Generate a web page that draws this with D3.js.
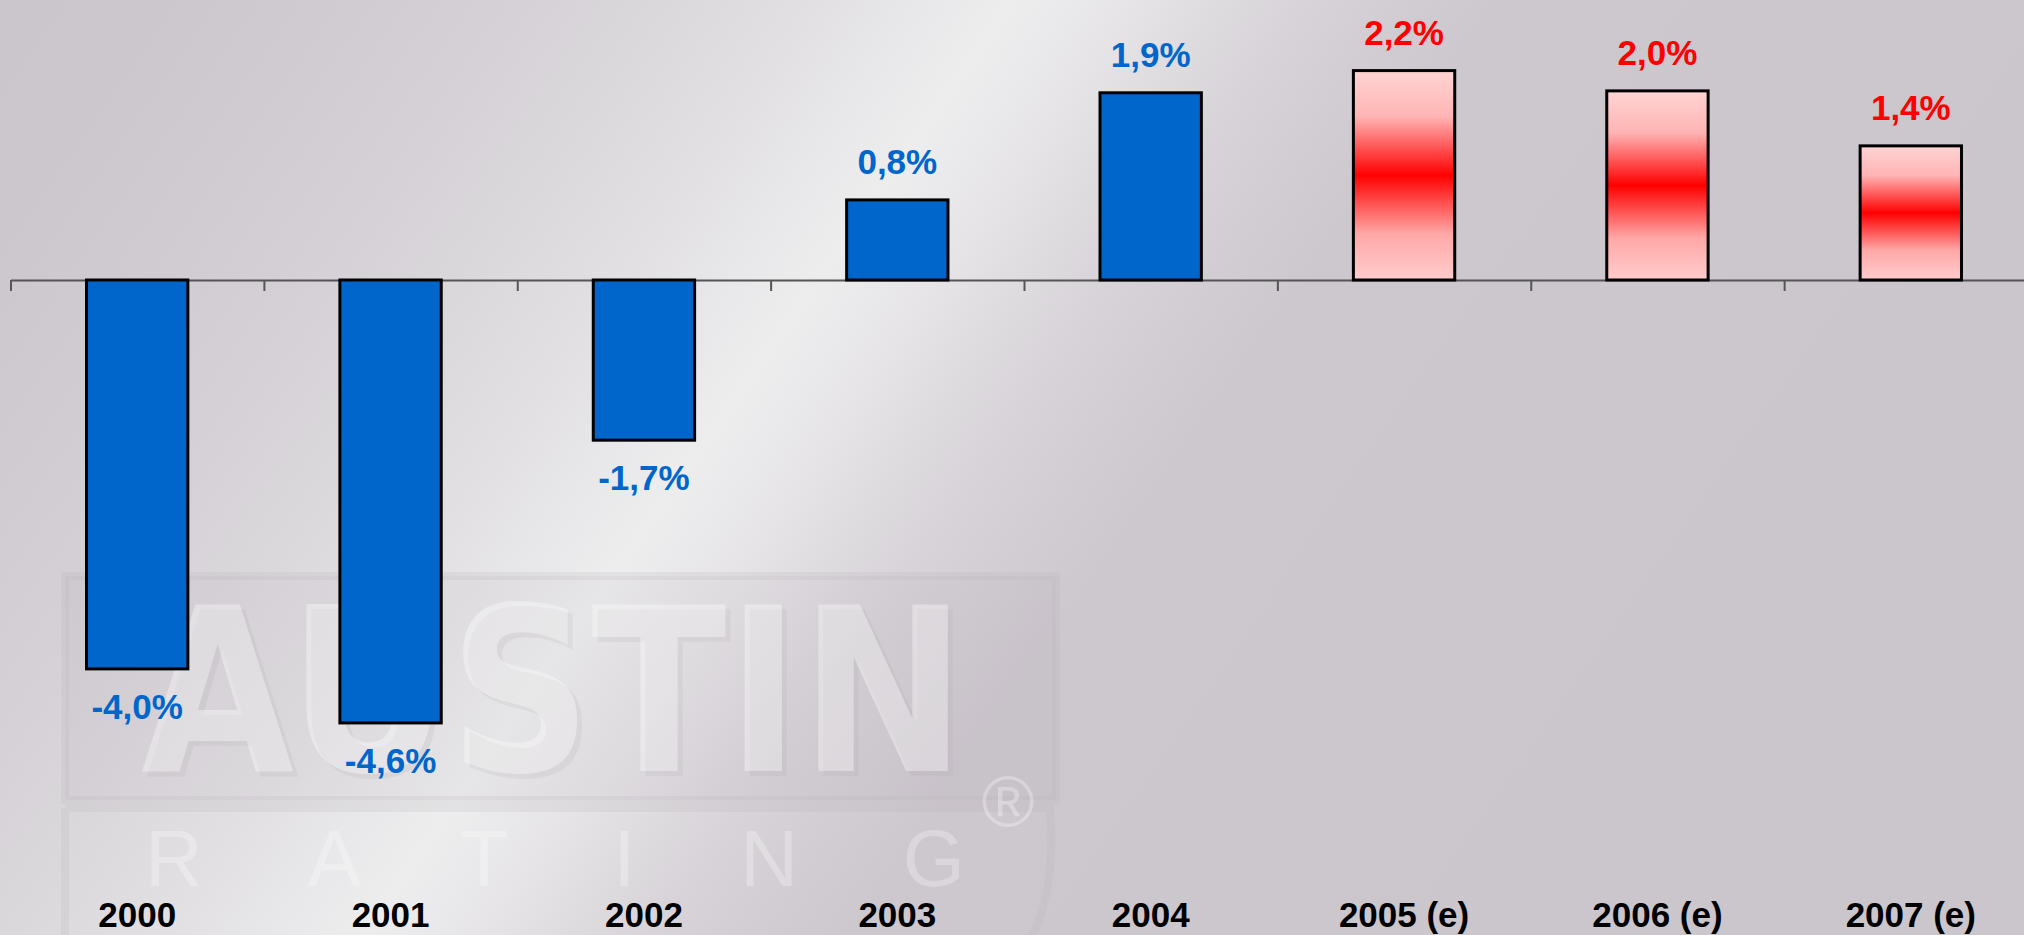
<!DOCTYPE html>
<html>
<head>
<meta charset="utf-8">
<script src="https://cdn.jsdelivr.net/npm/d3@7"></script>
<style>
  html, body { margin: 0; padding: 0; overflow: hidden; background: #cbc5cc; }
  svg { display: block; }
  text { font-family: "Liberation Sans", Arial, sans-serif; font-weight: bold; }
</style>
</head>
<body>
<div id="chart"></div>
<script>
const years = ["2000", "2001", "2002", "2003", "2004", "2005 (e)", "2006 (e)", "2007 (e)"];
const growth = [-4.03, -4.59, -1.66, 0.83, 1.94, 2.17, 1.96, 1.39];
const estimated = [false, false, false, false, false, true, true, true];

const width = 2024, height = 935;

const svg = d3.select("#chart")
  .append("svg")
  .attr("width", width)
  .attr("height", height);

const defs = svg.append("defs");

// background: grey with a light diagonal sheen
const bg = defs.append("linearGradient")
  .attr("id", "bg")
  .attr("gradientUnits", "userSpaceOnUse")
  .attr("x1", -121).attr("y1", -121)
  .attr("x2", 1521).attr("y2", 1021);
[[0, "#cac4cb"], [0.15, "#ccc6cd"], [0.3, "#d5d1d6"], [0.42, "#e2e0e3"],
 [0.5, "#ededee"], [0.55, "#e6e4e7"], [0.62, "#d7d3d8"], [0.7, "#cdc7ce"], [1, "#cbc5cc"]]
  .forEach(function (s) {
    bg.append("stop").attr("offset", s[0]).attr("stop-color", s[1]);
  });

const red = defs.append("linearGradient")
  .attr("id", "redbar")
  .attr("x1", 0).attr("y1", 0).attr("x2", 0).attr("y2", 1);
[[0, "#ffd4d4"], [0.22, "#ffb4b4"], [0.5, "#ff0000"], [0.78, "#ffa8a8"], [1, "#ffcccc"]]
  .forEach(function (s) {
    red.append("stop").attr("offset", s[0]).attr("stop-color", s[1]);
  });

svg.append("rect")
  .attr("width", width)
  .attr("height", height)
  .attr("fill", "url(#bg)");

// faint AUSTIN RATING watermark
const logo = svg.append("g").attr("class", "watermark");
logo.append("path")
  .attr("d", "M65,576 H1056 V800 H65 Z")
  .attr("fill", "#8a848c").attr("fill-opacity", 0.07)
  .attr("stroke", "#b9b3bb").attr("stroke-opacity", 0.2).attr("stroke-width", 8);
logo.append("path")
  .attr("d", "M65,808 H1050 Q1058,900 1020,960 M65,808 V960")
  .attr("fill", "none")
  .attr("stroke", "#b9b3bb").attr("stroke-opacity", 0.2).attr("stroke-width", 8);
logo.append("text")
  .attr("x", 146).attr("y", 776)
  .style("font-family", "'DejaVu Sans', sans-serif")
  .attr("font-size", 229)
  .attr("textLength", 825)
  .attr("lengthAdjust", "spacingAndGlyphs")
  .attr("fill", "#a9a3ab").attr("fill-opacity", 0.15)
  .text("AUSTIN");
logo.append("text")
  .attr("x", 141).attr("y", 771)
  .style("font-family", "'DejaVu Sans', sans-serif")
  .attr("font-size", 229)
  .attr("textLength", 825)
  .attr("lengthAdjust", "spacingAndGlyphs")
  .attr("fill", "#ffffff").attr("fill-opacity", 0.36)
  .text("AUSTIN");
logo.append("text")
  .attr("x", 145).attr("y", 886)
  .attr("font-size", 80)
  .style("font-weight", "normal")
  .attr("textLength", 820)
  .attr("lengthAdjust", "spacing")
  .attr("fill", "#ffffff").attr("fill-opacity", 0.28)
  .text("RATING");
logo.append("text")
  .attr("x", 1008).attr("y", 826)
  .attr("text-anchor", "middle")
  .style("font-weight", "normal")
  .attr("font-size", 72)
  .attr("fill", "#ffffff").attr("fill-opacity", 0.3)
  .text("®");

// scales
const x = d3.scaleBand()
  .domain(years)
  .range([10.5, 2037.5])
  .paddingInner(0.6)
  .paddingOuter(0.3);

const y = d3.scaleLinear()
  .domain([-5, 3])
  .range([762.5, -9.5]);

const zero = y(0);

// axis with ticks at category boundaries
const edges = d3.scaleLinear()
  .domain([0, years.length])
  .range(x.range());

svg.append("g")
  .attr("transform", "translate(0," + zero + ")")
  .call(d3.axisBottom(edges)
    .tickValues(d3.range(0, years.length + 1))
    .tickFormat("")
    .tickSizeInner(11)
    .tickSizeOuter(0))
  .call(function (g) {
    g.select(".domain").attr("stroke", "#555").attr("stroke-width", 2);
    g.selectAll(".tick line").attr("stroke", "#555").attr("stroke-width", 2);
  });

// bars
svg.append("g")
  .selectAll("rect")
  .data(years)
  .enter()
  .append("rect")
  .attr("x", function (d) { return x(d); })
  .attr("width", x.bandwidth())
  .attr("y", function (d, i) { return Math.min(y(growth[i]), zero); })
  .attr("height", function (d, i) { return Math.abs(y(growth[i]) - zero); })
  .attr("fill", function (d, i) { return estimated[i] ? "url(#redbar)" : "#0066cc"; })
  .attr("stroke", "#000")
  .attr("stroke-width", 3);

// value labels
const fmt = d3.formatLocale({
  decimal: ",", thousands: ".", grouping: [3], currency: ["", ""], minus: "-"
}).format(".1f");

svg.append("g")
  .selectAll("text")
  .data(years)
  .enter()
  .append("text")
  .attr("x", function (d) { return x(d) + x.bandwidth() / 2; })
  .attr("y", function (d, i) {
    return growth[i] >= 0 ? y(growth[i]) - 26 : y(growth[i]) + 50;
  })
  .attr("text-anchor", "middle")
  .attr("font-size", 35)
  .attr("fill", function (d, i) { return estimated[i] ? "#ff0000" : "#0066cc"; })
  .text(function (d, i) { return fmt(growth[i]) + "%"; });

// category labels
svg.append("g")
  .selectAll("text")
  .data(years)
  .enter()
  .append("text")
  .attr("x", function (d) { return x(d) + x.bandwidth() / 2; })
  .attr("y", 927)
  .attr("text-anchor", "middle")
  .attr("font-size", 35)
  .attr("fill", "#000")
  .text(function (d) { return d; });
</script>
</body>
</html>
